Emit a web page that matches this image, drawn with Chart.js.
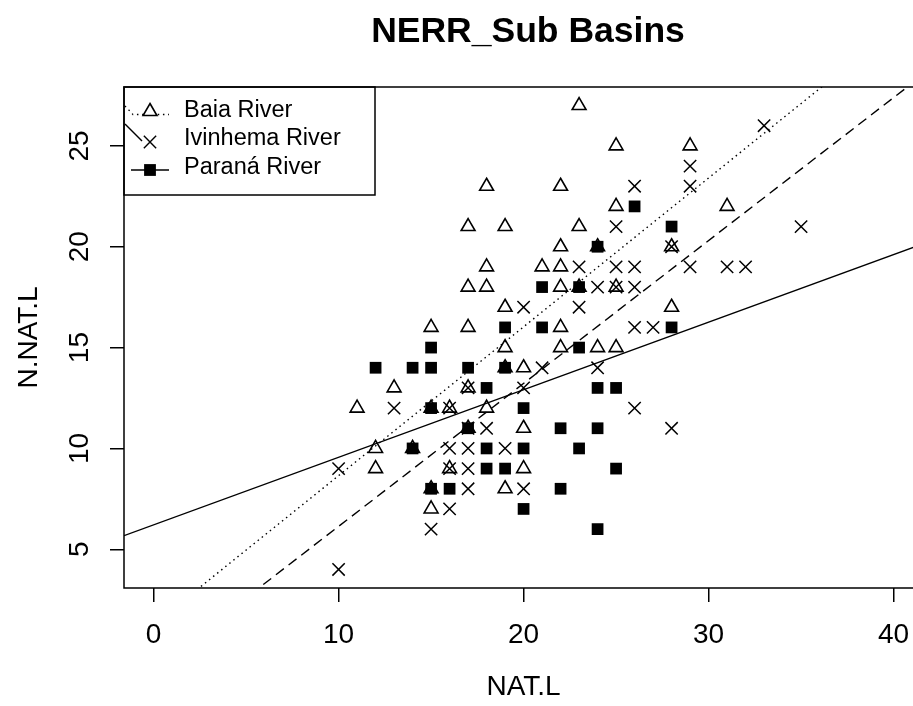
<!DOCTYPE html>
<html><head><meta charset="utf-8">
<script src="https://cdn.jsdelivr.net/npm/chart.js@4/dist/chart.umd.min.js"></script>
<style>html,body{margin:0;padding:0;background:#fff;overflow:hidden}</style>
</head><body>
<canvas id="c" width="913" height="706"></canvas>
<script>
// ---- data ----
const seriesNames = ["Baia River", "Ivinhema River", "Paraná River"];
const baiaX = [23,25,29,18,22,25,31,17,19,23,22,24,28,18,21,22,17,18,22,23,25,19,28,15,17,22,19,22,24,25,19,20,13,17,11,15,16,18,17,20,12,14,12,16,20,15,19,15];
const baiaY = [27,25,25,23,23,22,22,21,21,21,20,20,20,19,19,19,18,18,18,18,18,17,17,16,16,16,15,15,15,15,14,14,13,13,12,12,12,12,11,11,10,10,9,9,9,8,8,7];
const ivinX = [33,29,26,29,25,35,28,23,25,26,29,31,32,24,25,26,20,23,26,27,21,24,17,20,13,16,26,17,18,28,16,17,19,10,16,17,17,20,16,15,10];
const ivinY = [26,24,23,23,21,21,20,19,19,19,19,19,19,18,18,18,17,17,16,16,14,14,13,13,12,12,12,11,11,11,10,10,10,9,9,9,8,8,7,6,4];
const paraX = [26,28,24,21,23,19,21,28,15,23,12,14,15,17,19,18,24,25,15,20,17,22,24,14,18,20,23,18,19,25,15,16,22,20,24];
const paraY = [22,21,20,18,18,16,16,16,15,15,14,14,14,14,14,13,13,13,12,12,11,11,11,10,10,10,10,9,9,9,8,8,8,7,6];
// regression lines (Baia, Ivinhema, Paraná)
const fitIntercepts = [1.27, -0.95, 6.21];
const fitSlopes = [0.738, 0.7086, 0.335];
const xTicks = [0, 10, 20, 30, 40];
const yTicks = [5, 10, 15, 20, 25];
const chartTitle = "NERR_Sub Basins";
const xTitle = "NAT.L";
const yTitle = "N.NAT.L";

const X_MIN = -1.6, X_MAX = 41.05, Y_MIN = 3.08, Y_MAX = 27.92;
const FONT = '"Liberation Sans", Arial, sans-serif';

function pts(xs, ys) { return xs.map((x, i) => ({x: x, y: ys[i]})); }
function fitLine(i) {
  const a = fitIntercepts[i], b = fitSlopes[i];
  return [{x: -1.6, y: a + b * -1.6}, {x: 41.6, y: a + b * 41.6}];
}

const decorPlugin = {
  id: 'decor',
  afterDraw(chart) {
    const ctx = chart.ctx, ca = chart.chartArea;
    const xs = chart.scales.x, ys = chart.scales.y;
    ctx.save();
    ctx.strokeStyle = '#000'; ctx.fillStyle = '#000';
    // plot box (right side lies beyond canvas)
    ctx.lineWidth = 1.5;
    ctx.beginPath();
    ctx.moveTo(920, ca.top); ctx.lineTo(ca.left, ca.top);
    ctx.lineTo(ca.left, ca.bottom); ctx.lineTo(920, ca.bottom);
    ctx.stroke();
    // tick labels
    ctx.font = '28px ' + FONT;
    ctx.textAlign = 'center'; ctx.textBaseline = 'alphabetic';
    xs.ticks.forEach(t => {
      ctx.fillText(String(t.value), xs.getPixelForValue(t.value), 643);
    });
    ys.ticks.forEach(t => {
      ctx.save();
      ctx.translate(88, ys.getPixelForValue(t.value));
      ctx.rotate(-Math.PI / 2);
      ctx.fillText(String(t.value), 0, 0);
      ctx.restore();
    });
    // axis titles
    ctx.fillText(xTitle, (xs.getPixelForValue(-1.6) + xs.getPixelForValue(41.6)) / 2, 695);
    ctx.save();
    ctx.translate(37, (ca.top + ca.bottom) / 2);
    ctx.rotate(-Math.PI / 2);
    ctx.fillText(yTitle, 0, 0);
    ctx.restore();
    // main title
    ctx.font = 'bold 35.5px ' + FONT;
    ctx.fillText(chartTitle, 528, 42);
    // legend
    ctx.lineWidth = 1.5;
    ctx.strokeRect(ca.left, ca.top, 375 - ca.left, 195 - ca.top);
    ctx.font = '23.5px ' + FONT;
    ctx.textAlign = 'left';
    const rows = [116.5, 145, 174];
    seriesNames.forEach((n, i) => ctx.fillText(n, 184, rows[i]));
    // Baia entry: dotted stroke + open triangle
    ctx.lineWidth = 1.3;
    ctx.setLineDash([1.5, 3.7]);
    ctx.beginPath();
    ctx.moveTo(125, 106); ctx.lineTo(133, 114.5); ctx.lineTo(169, 114.5);
    ctx.stroke();
    ctx.setLineDash([]);
    ctx.lineWidth = 1.6;
    const tr = 8, tcx = 150, tcy = 111.5;
    ctx.beginPath();
    ctx.moveTo(tcx, tcy - tr);
    ctx.lineTo(tcx + tr * Math.sin(2 * Math.PI / 3), tcy - tr * Math.cos(2 * Math.PI / 3));
    ctx.lineTo(tcx + tr * Math.sin(4 * Math.PI / 3), tcy - tr * Math.cos(4 * Math.PI / 3));
    ctx.closePath();
    ctx.fillStyle = '#fff'; ctx.fill(); ctx.fillStyle = '#000';
    ctx.stroke();
    // Ivinhema entry
    ctx.lineWidth = 1.4;
    ctx.beginPath();
    ctx.moveTo(125, 124); ctx.lineTo(142, 141);
    ctx.stroke();
    const xr = 8.7 * Math.SQRT1_2;
    ctx.beginPath();
    ctx.moveTo(150 - xr, 142 - xr); ctx.lineTo(150 + xr, 142 + xr);
    ctx.moveTo(150 - xr, 142 + xr); ctx.lineTo(150 + xr, 142 - xr);
    ctx.stroke();
    // Paraná entry
    ctx.beginPath();
    ctx.moveTo(131, 170); ctx.lineTo(169, 170);
    ctx.stroke();
    ctx.fillRect(150 - 5.9, 170 - 5.9, 11.8, 11.8);
    ctx.restore();
  }
};

const tickGrid = {drawOnChartArea: false, drawTicks: true, tickLength: 14, color: '#000', lineWidth: 1.5};

new Chart(document.getElementById('c'), {
  type: 'scatter',
  data: {
    datasets: [
      {label: seriesNames[0], data: pts(baiaX, baiaY), pointStyle: 'triangle', pointRadius: 8,
       borderColor: '#000', backgroundColor: 'rgba(0,0,0,0)', pointBorderWidth: 1.6, borderWidth: 1.6},
      {label: seriesNames[1], data: pts(ivinX, ivinY), pointStyle: 'crossRot', pointRadius: 8.7,
       borderColor: '#000', backgroundColor: '#000', pointBorderWidth: 1.5, borderWidth: 1.5},
      {label: seriesNames[2], data: pts(paraX, paraY), pointStyle: 'rect', pointRadius: 8.3,
       borderColor: '#000', backgroundColor: '#000', pointBorderWidth: 0, borderWidth: 0},
      {label: 'fit ' + seriesNames[0], data: fitLine(0), showLine: true, pointRadius: 0, borderColor: '#000',
       borderWidth: 1.4, borderDash: [1.5, 3.7], clip: 0},
      {label: 'fit ' + seriesNames[1], data: fitLine(1), showLine: true, pointRadius: 0, borderColor: '#000',
       borderWidth: 1.4, borderDash: [10, 6], clip: 0},
      {label: 'fit ' + seriesNames[2], data: fitLine(2), showLine: true, pointRadius: 0, borderColor: '#000',
       borderWidth: 1.4, clip: 0}
    ]
  },
  options: {
    responsive: false, animation: false, devicePixelRatio: 1,
    layout: {autoPadding: false, padding: {top: 87, left: 0, right: 0, bottom: 0}},
    plugins: {legend: {display: false}, tooltip: {enabled: false}, title: {display: false}},
    events: [],
    scales: {
      x: {type: 'linear', position: 'bottom', min: X_MIN, max: X_MAX,
          afterBuildTicks: s => { s.ticks = xTicks.map(v => ({value: v})); },
          afterFit: s => { s.height = 118; },
          ticks: {display: false}, grid: tickGrid, border: {display: false}},
      y: {type: 'linear', position: 'left', min: Y_MIN, max: Y_MAX,
          afterBuildTicks: s => { s.ticks = yTicks.map(v => ({value: v})); },
          afterFit: s => { s.width = 124; },
          ticks: {display: false}, grid: tickGrid, border: {display: false}}
    }
  },
  plugins: [decorPlugin]
});
</script>
</body></html>
